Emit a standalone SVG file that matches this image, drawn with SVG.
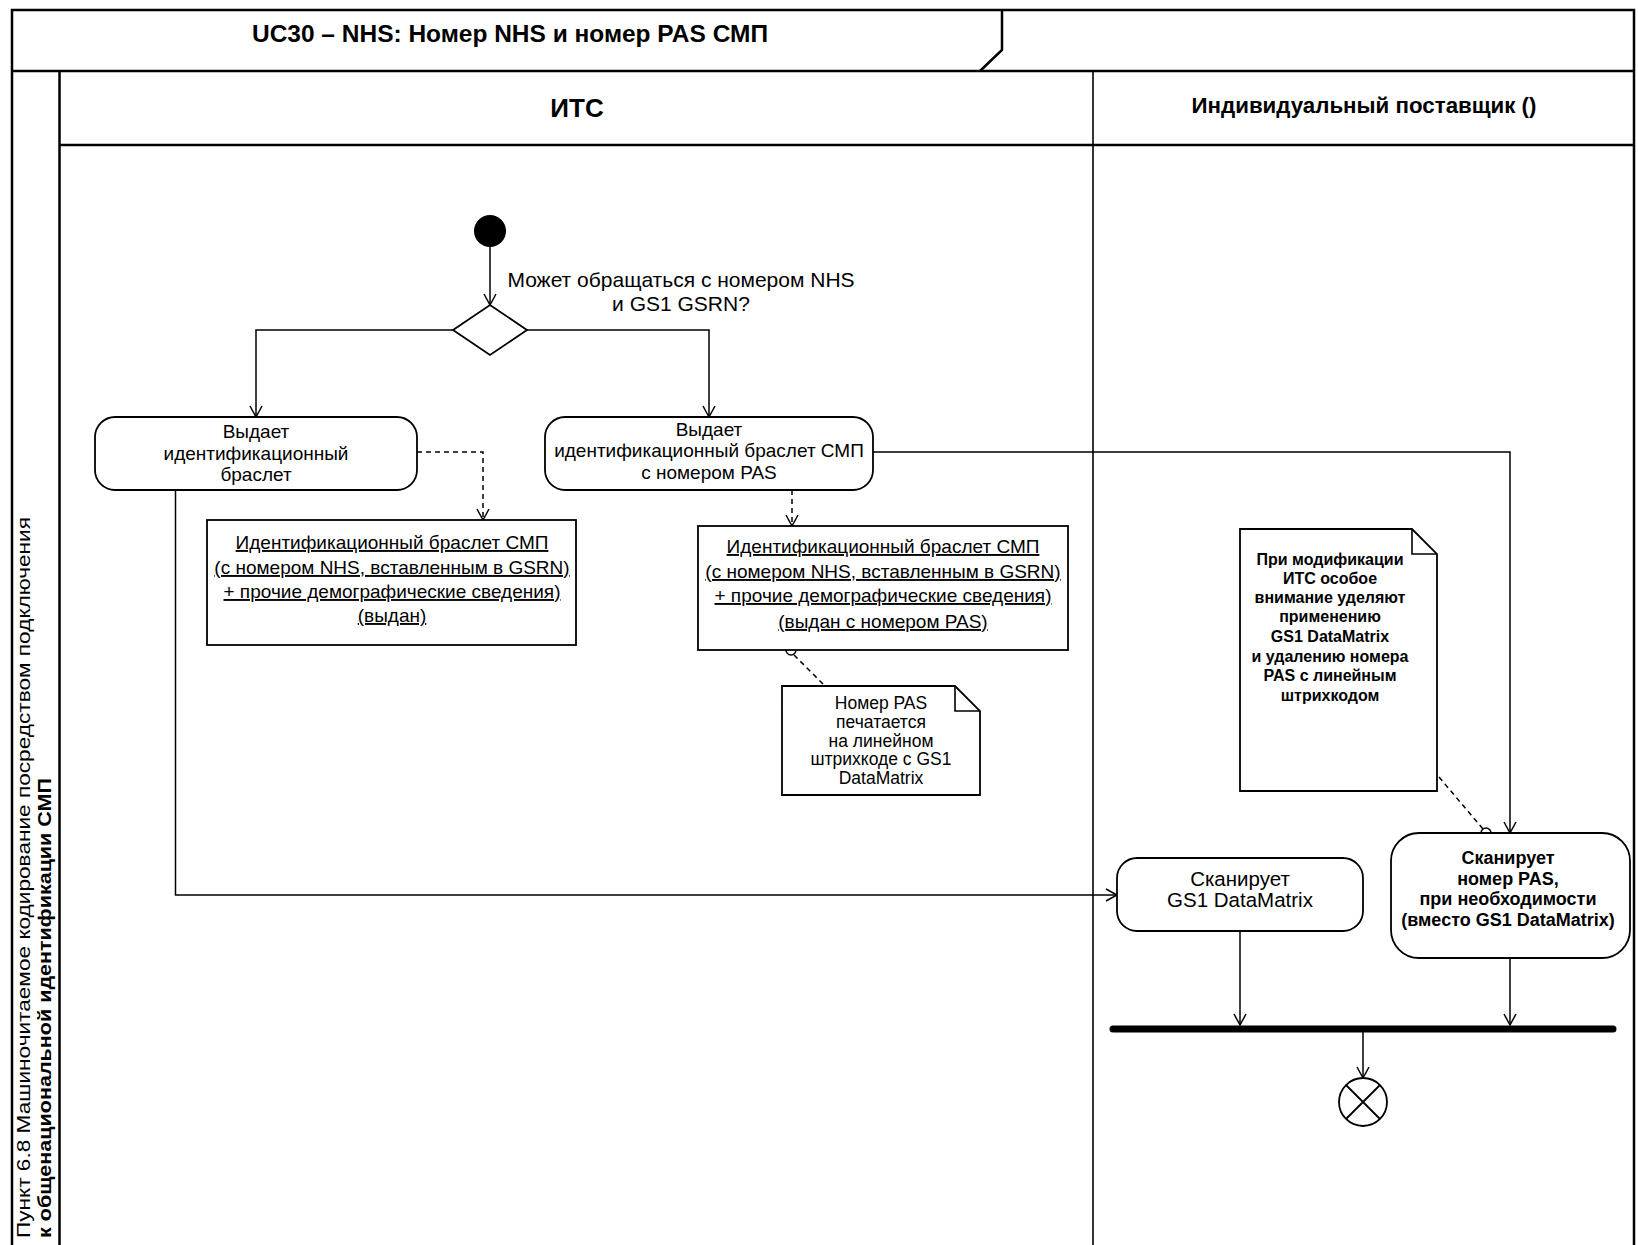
<svg xmlns="http://www.w3.org/2000/svg" width="1638" height="1245" viewBox="0 0 1638 1245">
<style>
text{font-family:"Liberation Sans",Arial,sans-serif;fill:#000}
.b{font-weight:bold}
.c{text-anchor:middle}
.u{text-decoration:underline}
.frame{stroke:#000;stroke-width:2.5;fill:none}
.thin{stroke:#000;stroke-width:1.6;fill:none}
.node{stroke:#000;stroke-width:1.8;fill:#fff}
.conn{stroke:#000;stroke-width:1.5;fill:none}
.dash{stroke-dasharray:5 4}
</style>
<defs>
<marker id="arr" markerWidth="14" markerHeight="14" refX="12" refY="7" orient="auto" markerUnits="userSpaceOnUse">
<path d="M1,1 L12,7 L1,13" fill="none" stroke="#000" stroke-width="1.5"/>
</marker>
</defs>
<rect width="1638" height="1245" fill="#fff"/>
<g id="frame">
<path class="frame" d="M12,1245 V10 H1634 V1245"/>
<path class="frame" d="M12,71 H1634"/>
<path class="frame" d="M1002,10 V50 L980,71"/>
<path class="frame" d="M59.5,71 V1245"/>
<path class="frame" d="M59.5,145 H1634"/>
<path class="thin" d="M1093,71 V1245"/>
<text class="b c" x="510" y="42" font-size="24" textLength="516" lengthAdjust="spacingAndGlyphs">UC30 – NHS: Номер NHS и номер PAS СМП</text>
<text class="b c" x="577" y="117" font-size="26">ИТС</text>
<text class="b c" x="1364" y="113" font-size="22.3">Индивидуальный поставщик ()</text>
<text transform="translate(30,1238) rotate(-90)" font-size="18" textLength="721" lengthAdjust="spacingAndGlyphs">Пункт 6.8 Машиночитаемое кодирование посредством подключения</text>
<text class="b" transform="translate(51,1238) rotate(-90)" font-size="18" textLength="460" lengthAdjust="spacingAndGlyphs">к общенациональной идентификации СМП</text>
</g>
<g id="connectors">
<path class="conn" d="M490,247 V305" marker-end="url(#arr)"/>
<path class="conn" d="M453,330 H256 V417" marker-end="url(#arr)"/>
<path class="conn" d="M527,330 H709 V417" marker-end="url(#arr)"/>
<path class="conn dash" d="M417,452 H483 V520" marker-end="url(#arr)"/>
<path class="conn dash" d="M792,490 V526" marker-end="url(#arr)"/>
<path class="conn dash" d="M794,655 L831,692"/>
<path class="conn" d="M873,452 H1510 V833" marker-end="url(#arr)"/>
<path class="conn dash" d="M1439,777 L1483,829"/>
<path class="conn" d="M175.5,490 V895 H1117" marker-end="url(#arr)"/>
<path class="conn" d="M1240,931 V1025" marker-end="url(#arr)"/>
<path class="conn" d="M1510,958 V1025" marker-end="url(#arr)"/>
<path class="conn" d="M1363,1032 V1078" marker-end="url(#arr)"/>
<circle cx="791" cy="650" r="5" fill="#fff" stroke="#000" stroke-width="1.5"/>
<circle cx="1486" cy="833" r="5" fill="#fff" stroke="#000" stroke-width="1.5"/>
</g>
<g id="start">
<circle cx="490" cy="231" r="16" fill="#000"/>
</g>
<g id="decision">
<path class="node" d="M490,305 L527,330 L490,355 L453,330 Z"/>
<text class="c" x="681" y="287" font-size="21">Может обращаться с номером NHS</text>
<text class="c" x="681" y="311" font-size="21">и GS1 GSRN?</text>
</g>
<g id="action1">
<rect class="node" x="95" y="417" width="322" height="73" rx="20"/>
<text class="c" x="256" y="438" font-size="19">Выдает</text>
<text class="c" x="256" y="460" font-size="19">идентификационный</text>
<text class="c" x="256" y="481" font-size="19">браслет</text>
</g>
<g id="action2">
<rect class="node" x="545" y="417" width="328" height="73" rx="20"/>
<text class="c" x="709" y="436" font-size="19">Выдает</text>
<text class="c" x="709" y="457" font-size="19">идентификационный браслет СМП</text>
<text class="c" x="709" y="479" font-size="19">с номером PAS</text>
</g>
<g id="object1">
<rect class="node" x="207" y="520" width="369" height="125"/>
<text class="c u" x="392" y="549" font-size="19">Идентификационный браслет СМП</text>
<text class="c u" x="392" y="574" font-size="19">(с номером NHS, вставленным в GSRN)</text>
<text class="c u" x="392" y="598" font-size="19">+ прочие демографические сведения)</text>
<text class="c u" x="392" y="622" font-size="19">(выдан)</text>
</g>
<g id="object2">
<rect class="node" x="698" y="526" width="370" height="124"/>
<text class="c u" x="883" y="553" font-size="19">Идентификационный браслет СМП</text>
<text class="c u" x="883" y="578" font-size="19">(с номером NHS, вставленным в GSRN)</text>
<text class="c u" x="883" y="602" font-size="19">+ прочие демографические сведения)</text>
<text class="c u" x="883" y="628" font-size="19">(выдан с номером PAS)</text>
</g>
<g id="note1">
<path class="node" d="M782,686 H955 L980,711 V795 H782 Z"/>
<path class="thin" d="M955,686 V711 H980"/>
<text class="c" x="881" y="709" font-size="17.5">Номер PAS</text>
<text class="c" x="881" y="728" font-size="17.5">печатается</text>
<text class="c" x="881" y="747" font-size="17.5">на линейном</text>
<text class="c" x="881" y="765" font-size="17.5">штрихкоде с GS1</text>
<text class="c" x="881" y="784" font-size="17.5">DataMatrix</text>
</g>
<g id="note2">
<path class="node" d="M1240,529 H1412 L1437,554 V791 H1240 Z"/>
<path class="thin" d="M1412,529 V554 H1437"/>
<text class="b c" x="1330" y="565" font-size="16">При модификации</text>
<text class="b c" x="1330" y="584" font-size="16">ИТС особое</text>
<text class="b c" x="1330" y="603" font-size="16">внимание уделяют</text>
<text class="b c" x="1330" y="622" font-size="16">применению</text>
<text class="b c" x="1330" y="642" font-size="16">GS1 DataMatrix</text>
<text class="b c" x="1330" y="662" font-size="16">и удалению номера</text>
<text class="b c" x="1330" y="681" font-size="16">PAS с линейным</text>
<text class="b c" x="1330" y="701" font-size="16">штрихкодом</text>
</g>
<g id="action3">
<rect class="node" x="1117" y="858" width="246" height="73" rx="20"/>
<text class="c" x="1240" y="886" font-size="20.5">Сканирует</text>
<text class="c" x="1240" y="907" font-size="20.5">GS1 DataMatrix</text>
</g>
<g id="action4">
<rect class="node" x="1391" y="833" width="239" height="125" rx="28"/>
<text class="b c" x="1508" y="864" font-size="18">Сканирует</text>
<text class="b c" x="1508" y="885" font-size="18">номер PAS,</text>
<text class="b c" x="1508" y="905" font-size="18">при необходимости</text>
<text class="b c" x="1508" y="926" font-size="18">(вместо GS1 DataMatrix)</text>
</g>
<g id="join">
<line x1="1113" y1="1029" x2="1613" y2="1029" stroke="#000" stroke-width="7" stroke-linecap="round"/>
</g>
<g id="final">
<circle cx="1363" cy="1102" r="24" fill="#fff" stroke="#000" stroke-width="1.8"/>
<path d="M1346,1085 L1380,1119 M1380,1085 L1346,1119" stroke="#000" stroke-width="1.8"/>
</g>
</svg>
